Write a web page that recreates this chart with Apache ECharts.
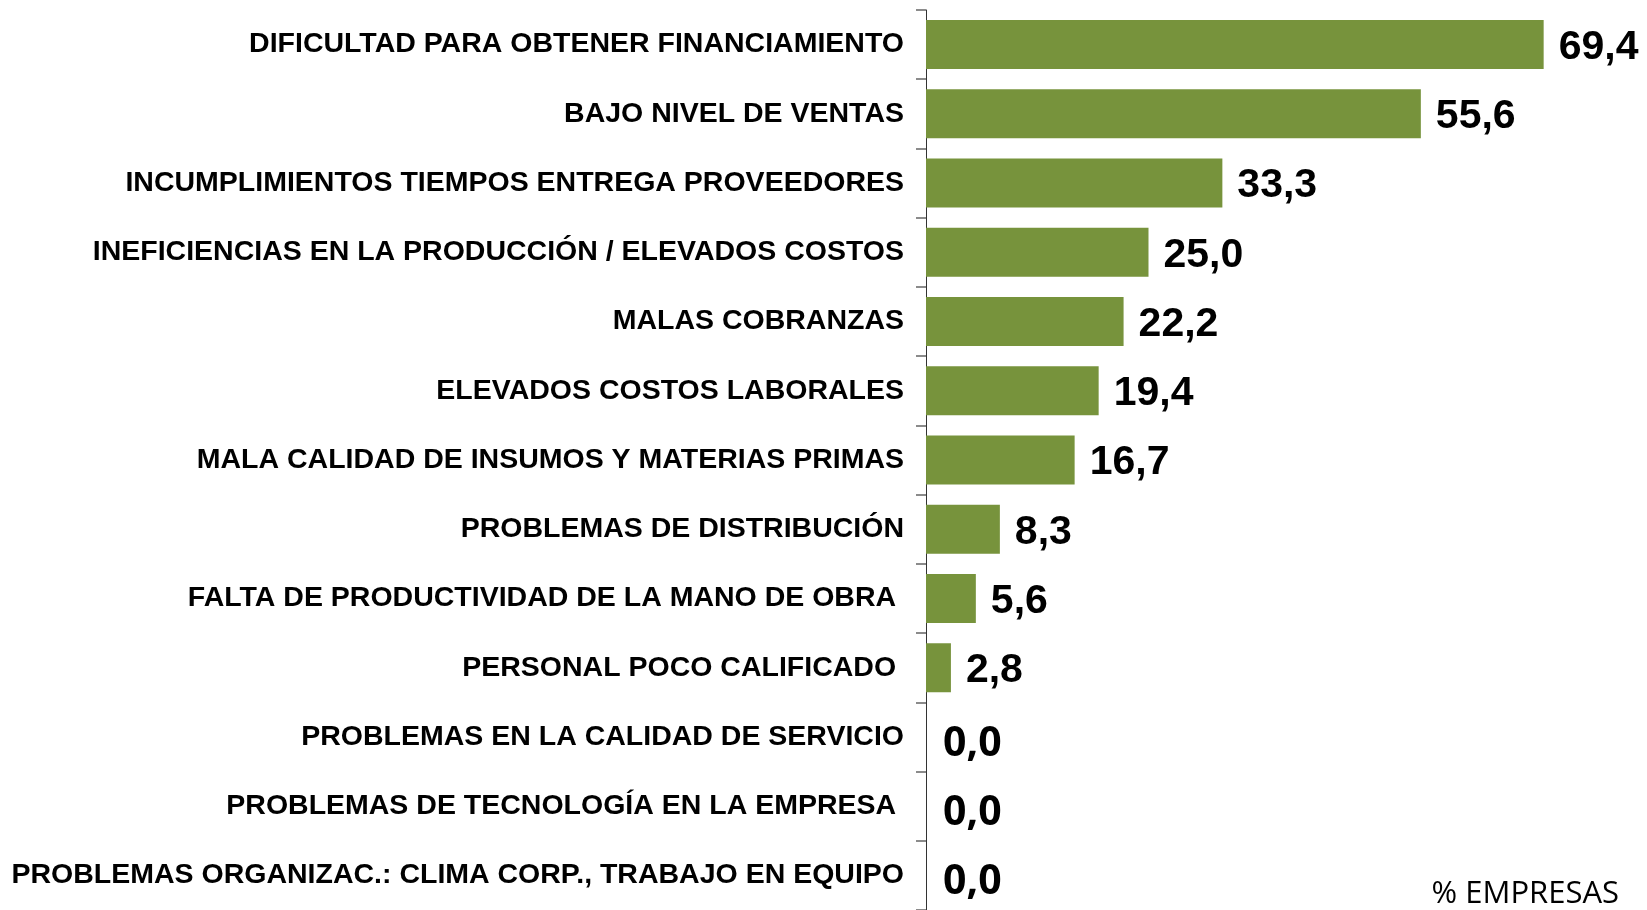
<!DOCTYPE html>
<html>
<head>
<meta charset="utf-8">
<title>Problemas empresas</title>
<script src="https://cdn.jsdelivr.net/npm/echarts@6/dist/echarts.min.js"></script>
<style>
  html, body { margin: 0; padding: 0; background: #fff; }
  #chart { width: 1647px; height: 910px; }
</style>
</head>
<body>
<div id="chart"></div>
<script>
// categorias, de arriba hacia abajo (algunas llevan espacio final como en el original)
const categorias = [
  'DIFICULTAD PARA OBTENER FINANCIAMIENTO',
  'BAJO NIVEL DE VENTAS',
  'INCUMPLIMIENTOS TIEMPOS ENTREGA PROVEEDORES',
  'INEFICIENCIAS EN LA PRODUCCIÓN / ELEVADOS COSTOS',
  'MALAS COBRANZAS',
  'ELEVADOS COSTOS LABORALES',
  'MALA CALIDAD DE INSUMOS Y MATERIAS PRIMAS',
  'PROBLEMAS DE DISTRIBUCIÓN',
  'FALTA DE PRODUCTIVIDAD DE LA MANO DE OBRA ',
  'PERSONAL POCO CALIFICADO ',
  'PROBLEMAS EN LA CALIDAD DE SERVICIO',
  'PROBLEMAS DE TECNOLOGÍA EN LA EMPRESA ',
  'PROBLEMAS ORGANIZAC.: CLIMA CORP., TRABAJO EN EQUIPO'
]

const porcentajes = [69.4, 55.6, 33.3, 25.0, 22.2, 19.4, 16.7, 8.3, 5.6, 2.8, 0.0, 0.0, 0.0]

const unidad = '% EMPRESAS'

const chart = echarts.init(document.getElementById('chart'))

chart.setOption({
  animation: false,
  grid: {
    left: 926,
    right: 9,
    top: 10,
    bottom: 0,
    containLabel: false,
    outerBoundsMode: 'none'
  },
  xAxis: {
    type: 'value',
    min: 0,
    max: 80,
    show: false
  },
  yAxis: {
    type: 'category',
    inverse: true,
    data: categorias,
    axisLine: { show: true, lineStyle: { color: '#333', width: 1 } },
    axisTick: { show: true, length: 10, lineStyle: { color: '#666', width: 1.5 } },
    axisLabel: {
      margin: 22,
      padding: [4, 0, 0, 0],
      color: '#000',
      // no hay Arial Narrow, se usa Liberation Sans algo mas chica
      fontFamily: '"Liberation Sans Narrow", "Liberation Sans", Arial, sans-serif',
      fontWeight: 'bold',
      fontSize: 28.5
    }
  },
  series: [{
    type: 'bar',
    data: porcentajes,
    barWidth: 49,
    itemStyle: { color: '#77933C' },
    label: {
      show: true,
      position: 'right',
      distance: 15,
      padding: [6, 0, 0, 0],
      color: '#000',
      fontFamily: '"Liberation Sans", Arial, sans-serif',
      fontWeight: 'bold',
      fontSize: 41,
      formatter: function (p) {
        const txt = p.value.toFixed(1).replace('.', ',')
        // los ceros vienen con otra fuente en el original
        return p.value === 0 ? '{z|' + txt + '}' : txt
      },
      rich: {
        z: {
          fontFamily: '"Open Sans", sans-serif',
          fontWeight: 'bold',
          fontSize: 41,
          color: '#000',
          padding: [8, 0, 0, 2]
        }
      }
    }
  }],
  graphic: [{
    type: 'text',
    right: 28,
    bottom: 0,
    style: {
      text: unidad,
      fill: '#000',
      font: '31px "Open Sans", sans-serif'
    }
  }]
})
</script>
</body>
</html>
